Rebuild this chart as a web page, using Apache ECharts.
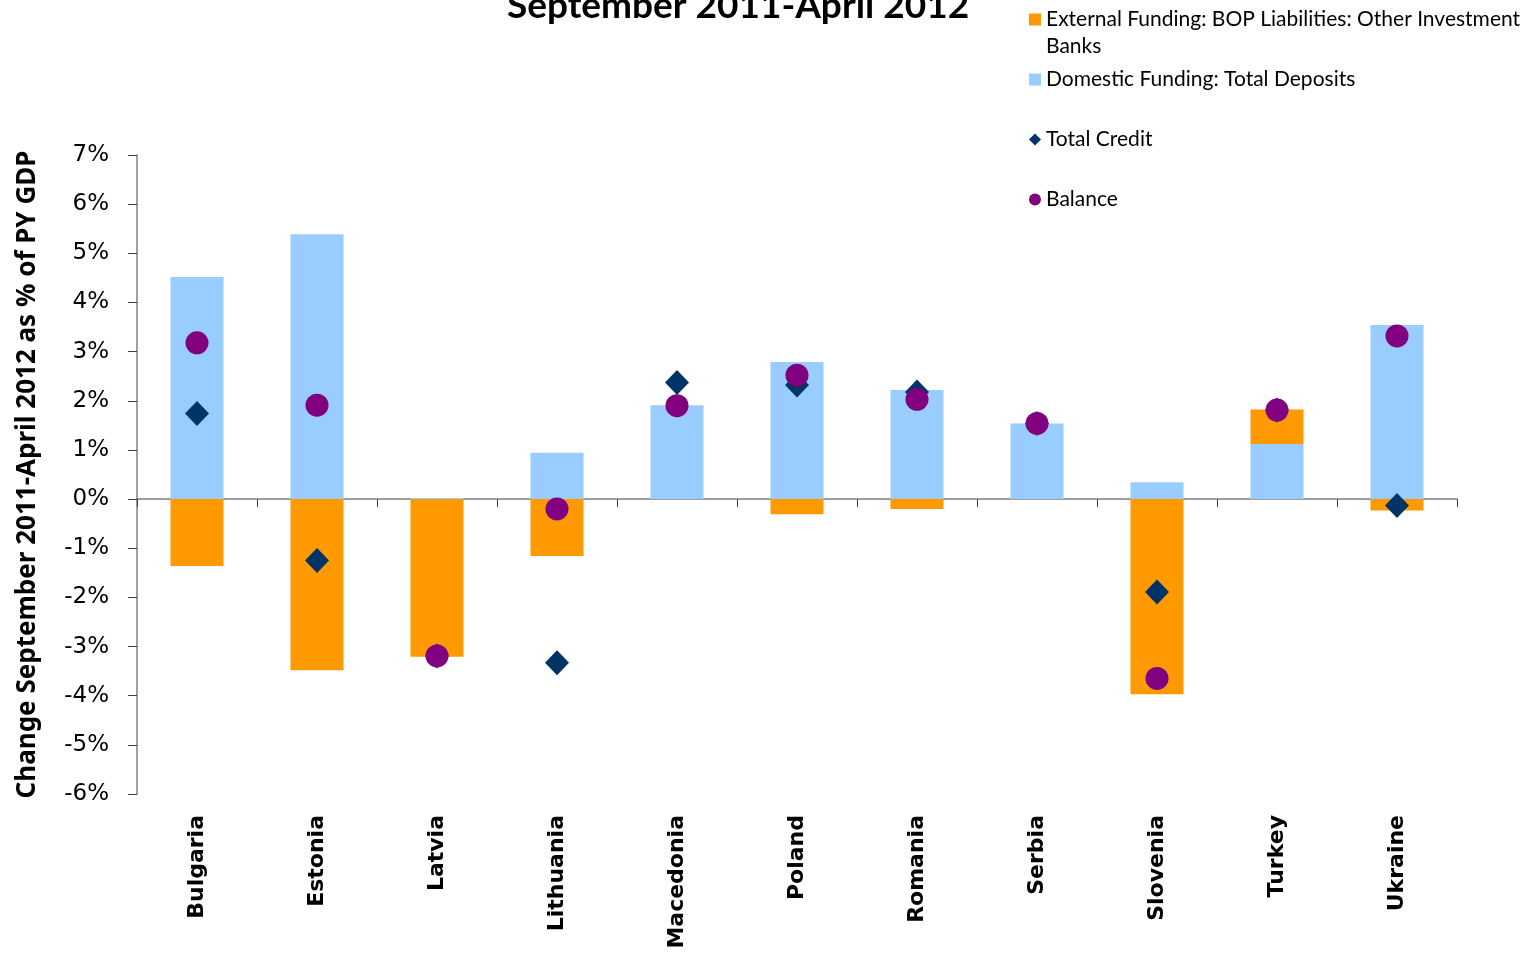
<!DOCTYPE html>
<html>
<head>
<meta charset="UTF-8">
<title>September 2011-April 2012</title>
<style>
  html, body { margin: 0; padding: 0; background: #fff; }
  #main { width: 1538px; height: 955px; }
</style>
<script src="https://cdn.jsdelivr.net/npm/echarts@6/dist/echarts.min.js"></script>
</head>
<body>
<div id="main"></div>
<script>
  var countries = ['Bulgaria', 'Estonia', 'Latvia', 'Lithuania', 'Macedonia', 'Poland', 'Romania', 'Serbia', 'Slovenia', 'Turkey', 'Ukraine'];
  // % of PY GDP
  var deposits = [4.52, 5.39, 0.02, 0.94, 1.91, 2.79, 2.22, 1.54, 0.34, 1.12, 3.54];
  var external = [-1.36, -3.48, -3.21, -1.16, 0, -0.31, -0.20, 0, -3.97, 0.70, -0.23];
  var totalCredit = [1.74, -1.25, -3.19, -3.33, 2.37, 2.32, 2.18, 1.54, -1.89, 1.81, -0.13];
  var balance = [3.18, 1.91, -3.19, -0.20, 1.90, 2.52, 2.03, 1.54, -3.65, 1.81, 3.32];

  var names = {
    ext: 'External Funding: BOP Liabilities: Other Investment Banks',
    dep: 'Domestic Funding: Total Deposits',
    credit: 'Total Credit',
    bal: 'Balance'
  };

  var chart = echarts.init(document.getElementById('main'));

  var legendBase = {
    orient: 'vertical',
    left: 1024,
    itemWidth: 12,
    itemHeight: 12,
    itemGap: 5,
    selectedMode: false,
    textStyle: { fontFamily: 'Lato', fontSize: 21, color: '#000' }
  };

  var option = {
    animation: false,
    backgroundColor: '#fff',
    title: {
      text: 'September 2011-April 2012',
      left: 733,
      textAlign: 'center',
      top: -17,
      textStyle: { fontFamily: 'Lato', fontWeight: 'bold', fontSize: 37, color: '#000' }
    },
    legend: [
      Object.assign({}, legendBase, {
        top: 4, data: [{ name: names.ext, icon: 'rect' }],
        formatter: function () { return 'External Funding: BOP Liabilities: Other Investment'; }
      }),
      Object.assign({}, legendBase, { top: 64, data: [{ name: names.dep, icon: 'rect' }] }),
      Object.assign({}, legendBase, { top: 124, data: [names.credit] }),
      Object.assign({}, legendBase, { top: 184, data: [names.bal] })
    ],
    graphic: [{
      type: 'text',
      left: 1046,
      top: 36,
      style: { text: 'Banks', fontFamily: 'Lato', fontSize: 21, fill: '#000' }
    }],
    grid: { left: 137, right: 81, top: 155, bottom: 161 },
    xAxis: [{
      type: 'category',
      data: countries,
      position: 'bottom',
      axisLine: { onZero: true, lineStyle: { color: '#808080', width: 1.5 } },
      axisTick: { show: true, length: 8, lineStyle: { color: '#404040' } },
      axisLabel: { show: false },
      splitLine: { show: false }
    }, {
      type: 'category',
      data: countries,
      position: 'bottom',
      axisLine: { show: false, onZero: false },
      axisTick: { show: false },
      axisLabel: {
        rotate: 90,
        margin: 21,
        fontFamily: 'DejaVu Sans',
        fontWeight: 'bold',
        fontSize: 22,
        color: '#000'
      }
    }],
    yAxis: {
      type: 'value',
      min: -6,
      max: 7,
      interval: 1,
      name: 'Change September 2011-April 2012 as % of PY GDP',
      nameLocation: 'middle',
      nameGap: 96,
      nameRotate: 90,
      nameTextStyle: { fontFamily: 'Noto Sans', fontWeight: 'bold', fontSize: 26, color: '#000' },
      axisLine: { show: true, lineStyle: { color: '#808080', width: 1.5 } },
      axisTick: { show: true, length: 9, lineStyle: { color: '#404040' } },
      axisLabel: {
        formatter: '{value}%',
        margin: 28,
        fontFamily: 'DejaVu Sans',
        fontSize: 23,
        color: '#000'
      },
      splitLine: { show: false }
    },
    series: [{
      name: names.dep,
      type: 'bar',
      stack: 'funding',
      barWidth: 53,
      itemStyle: { color: '#99CCFF' },
      data: deposits
    }, {
      name: names.ext,
      type: 'bar',
      stack: 'funding',
      barWidth: 53,
      itemStyle: { color: '#FF9900' },
      data: external
    }, {
      name: names.credit,
      type: 'scatter',
      symbol: 'diamond',
      symbolSize: [24, 25],
      itemStyle: { color: '#003366', opacity: 1 },
      data: totalCredit
    }, {
      name: names.bal,
      type: 'scatter',
      symbol: 'circle',
      symbolSize: 23,
      itemStyle: { color: '#800080', opacity: 1 },
      data: balance
    }]
  };

  chart.setOption(option);
</script>
</body>
</html>
